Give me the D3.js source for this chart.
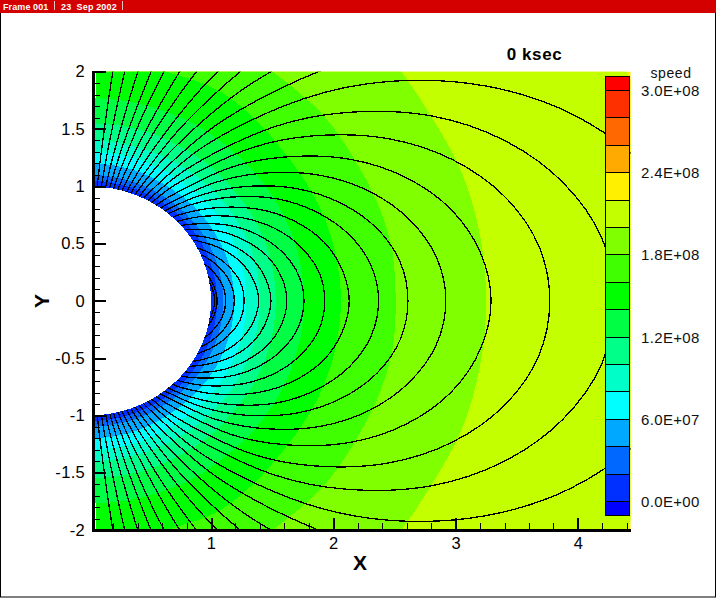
<!DOCTYPE html>
<html><head><meta charset="utf-8">
<script src="https://cdn.jsdelivr.net/npm/d3@7"></script>
<style>
html,body{margin:0;padding:0;background:#fff;overflow:hidden}
svg{display:block;font-family:"Liberation Sans",Arial,sans-serif}
</style></head><body><svg id="c" width="716" height="598"></svg>
<script>
const _ = null;
// Colour levels (legend)
const legendEdges = [-1e7,0,2e7,4e7,6e7,8e7,1e8,1.2e8,1.4e8,1.6e8,1.8e8,2e8,2.2e8,2.4e8,2.6e8,2.8e8,3e8,3.1e8];
const legendColors = ["#0000ff","#0030ff","#0068ff","#00a8ff","#00ffff","#00ffc8","#00ff88","#00ff44","#00ff00","#40ff00","#80ff00","#c4ff00","#fff000","#ffaa00","#ff6800","#ff3000","#ff0000"];
const legendTicks = [0,6e7,1.2e8,1.8e8,2.4e8,3e8];
const legendTickLabels = ["0.0E+00","6.0E+07","1.2E+08","1.8E+08","2.4E+08","3.0E+08"];
// Band boundaries: radius read at angles from the y=0 line (degrees)
const bandAngles = [0,10,20,30,40,50,60,70,80,88.2];
const bandInnerColor = [12,11,10,9,8,7,6,5,4,3,2,1];
const bandRadii = [
 [6,6,6,6,6,6,6,6,6,6],
 [4.83,4.83,4.83,4.83,4.83,4.83,4.83,4.83,4.83,4.83],
 [3.25,3.25,3.25,3.23,3.25,3.25,3.25,3.25,3.25,3.25],
 [2.51,2.52,2.51,2.50,2.51,2.50,2.51,2.51,2.51,2.51],
 [2.065,2.06,2.06,2.055,2.06,2.09,2.12,2.10,2.10,2.10],
 [1.76,1.76,1.76,1.76,1.76,1.76,1.77,1.77,1.77,1.77],
 [1.53,1.53,1.53,1.53,1.53,1.54,1.54,1.55,1.55,1.55],
 [1.40,1.40,1.40,1.40,1.40,1.40,1.40,1.40,1.40,1.40],
 [1.29,1.29,1.29,1.29,1.29,1.29,1.29,1.30,1.30,1.30],
 [1.19,1.19,1.19,1.19,1.19,1.19,1.19,1.20,1.20,1.20],
 [1.10,1.10,1.10,1.10,1.10,1.10,1.10,1.10,1.10,1.10],
 [1.05,1.05,1.05,1.05,1.05,1.05,1.05,1.05,1.05,1.05]
];
const rimRadius = 1;
// Field lines: radius at each polar angle from +y (degrees), upper half
const fieldGrid = [90,82.5,75,67.5,60,52,45,35,27,21,16,12,9,7,5.5,4.5];
const fieldFoot = [3.97,5.89,7.93,9.87,11.73,13.83,15.79,18.02,20.08,22.16,24.38,26.57,28.83,31.0,33.46,35.82,38.24,40.51,43.25,46.04,48.92,51.79,55.15,58.18,62.55,66.44,71.27,77.39,81.0];
const fieldR = [
 [_,_,_,_,_,_,_,_,_,_,_,_,_,3.10,1.92,1.29],
 [_,_,_,_,_,_,_,_,_,_,_,4.10,2.33,1.41],
 [_,_,_,_,_,_,_,_,_,_,4.00,2.27,1.29],
 [_,_,_,_,_,_,_,_,_,4.37,2.58,1.47],
 [_,_,_,_,_,_,_,_,4.99,3.11,1.84,1.05],
 [_,_,_,_,_,_,_,5.76,3.61,2.25,1.33],
 [_,_,_,_,_,_,_,4.44,2.78,1.73,1.03],
 [_,_,_,_,_,_,5.23,3.44,2.15,1.34],
 [_,_,_,_,_,5.27,4.24,2.79,1.75,1.09],
 [_,_,_,_,5.27,4.36,3.52,2.31,1.45],
 [5.87,5.77,5.48,5.01,4.40,3.65,2.94,1.93,1.21],
 [5.00,4.92,4.67,4.27,3.75,3.11,2.50,1.65,1.03],
 [4.30,4.23,4.01,3.67,3.23,2.67,2.15,1.41],
 [3.77,3.71,3.52,3.22,2.83,2.34,1.89,1.24],
 [3.29,3.23,3.07,2.81,2.47,2.04,1.65,1.08],
 [2.92,2.87,2.72,2.49,2.19,1.81,1.46],
 [2.61,2.57,2.44,2.23,1.96,1.62,1.31],
 [2.37,2.33,2.21,2.02,1.78,1.47,1.19],
 [2.13,2.09,1.99,1.82,1.60,1.32,1.07],
 [1.93,1.90,1.80,1.65,1.45,1.20],
 [1.76,1.73,1.64,1.50,1.32,1.09],
 [1.62,1.59,1.51,1.38,1.22,1.01],
 [1.49,1.46,1.39,1.27,1.11],
 [1.39,1.36,1.29,1.18,1.04],
 [1.27,1.25,1.18,1.08],
 [1.19,1.17,1.11,1.02],
 [1.12,1.10,1.04],
 [1.05,1.03],
 [1.03,1.01]
];
const xTicks = [1,2,3,4];
const xMinor = [0.2,0.4,0.6,0.8,1.2,1.4,1.6,1.8,2.2,2.4,2.6,2.8,3.2,3.4,3.6,3.8,4.2,4.4];
const yTicks = [-2,-1.5,-1,-0.5,0,0.5,1,1.5,2];
const yMinor = [-1.9,-1.8,-1.7,-1.6,-1.4,-1.3,-1.2,-1.1,-0.9,-0.8,-0.7,-0.6,-0.4,-0.3,-0.2,-0.1,0.1,0.2,0.3,0.4,0.6,0.7,0.8,0.9,1.1,1.2,1.3,1.4,1.6,1.7,1.8,1.9];
const frameText = ["Frame 001","23  Sep 2002"];
const timeLabel = "0 ksec";
const legendTitle = "speed";

const svg = d3.select("#c");
const x = d3.scaleLinear().domain([0.035,4.43]).range([93,630.5]);
const y = d3.scaleLinear().domain([2,-2]).range([71.7,530]);
const lv = d3.scaleLinear().domain([0,3e8]).range([501,90]);
const rad = d => d*Math.PI/180;

// page frame + title bar
svg.append("rect").attr("x",0.5).attr("y",0.5).attr("width",715).attr("height",596.5).attr("fill","#fff").attr("stroke","#000");
svg.append("rect").attr("width",716).attr("height",13).attr("fill","#d40000");
svg.append("text").attr("x",3).attr("y",9.5).attr("fill","#fff").attr("font-size",9).attr("letter-spacing",.1).attr("font-weight","bold").text(frameText[0]);
svg.append("line").attr("x1",54.5).attr("x2",54.5).attr("y1",1).attr("y2",10).attr("stroke","#f0c0c0");
svg.append("text").attr("x",61).attr("y",9.5).attr("fill","#fff").attr("font-size",9).attr("letter-spacing",.15).attr("font-weight","bold").style("white-space","pre").text(frameText[1]);
svg.append("line").attr("x1",122.5).attr("x2",122.5).attr("y1",1).attr("y2",10).attr("stroke","#f0c0c0");

svg.append("defs").append("clipPath").attr("id","plot").append("rect")
  .attr("x",x(0.035)).attr("y",y(2)).attr("width",x(4.43)-x(0.035)).attr("height",y(-2)-y(2));
const plot = svg.append("g").attr("clip-path","url(#plot)");

// bands, outermost first
const curve = d3.line().x(d=>x(d[0])).y(d=>y(d[1])).curve(d3.curveCatmullRom.alpha(0.5));
bandRadii.forEach((rs,k)=>{
  const pts = [];
  bandAngles.slice().reverse().forEach((a,i)=>{ const r=rs[bandAngles.length-1-i]; pts.push([r*Math.cos(rad(a)),-r*Math.sin(rad(a))]); });
  bandAngles.forEach((a,i)=>{ if(i>0) pts.push([rs[i]*Math.cos(rad(a)),rs[i]*Math.sin(rad(a))]); });
  plot.append("path").attr("d",curve(pts)+`L${x(0)},${y(0)}Z`)
    .attr("fill",legendColors[bandInnerColor[k]]).attr("shape-rendering","crispEdges");
});
// the solid body
plot.append("path").attr("d",curve(d3.range(-90,91,5).map(a=>[rimRadius*Math.cos(rad(a)),rimRadius*Math.sin(rad(a))]))+`L${x(0)},${y(0)}Z`)
  .attr("fill","#fff").attr("shape-rendering","crispEdges");

// field lines
const flGroup = plot.append("g").attr("fill","none").attr("stroke","#000").attr("stroke-width",1.3).attr("shape-rendering","crispEdges");
fieldR.forEach((row,i)=>{
  const up = [];
  row.forEach((r,j)=>{ if(r!==null) up.push([fieldGrid[j],r]); });
  up.push([fieldFoot[i],1]);
  const P = (c,r,s)=>[r*Math.sin(rad(c)),s*r*Math.cos(rad(c))];
  if(row[0]!==null){
    const pts = up.slice().reverse().map(d=>P(d[0],d[1],1)).concat(up.slice(1).map(d=>P(d[0],d[1],-1)));
    flGroup.append("path").attr("d",curve(pts));
  } else {
    flGroup.append("path").attr("d",curve(up.map(d=>P(d[0],d[1],1))));
    flGroup.append("path").attr("d",curve(up.map(d=>P(d[0],d[1],-1))));
  }
});

// legend
const leg = svg.append("g");
legendColors.forEach((c,i)=>{
  leg.append("rect").attr("x",605.5).attr("width",24).attr("y",Math.round(lv(legendEdges[i+1]))+.5)
    .attr("height",Math.round(lv(legendEdges[i]))-Math.round(lv(legendEdges[i+1])))
    .attr("fill",c).attr("stroke","#000").attr("stroke-width",1).attr("shape-rendering","crispEdges");
});
legendTicks.forEach((v,i)=>{
  svg.append("text").attr("x",641).attr("y",lv(v)+.5).attr("dy",".36em").attr("font-size",15).attr("letter-spacing",.35).attr("fill","#111").text(legendTickLabels[i]);
});
svg.append("text").attr("x",671).attr("y",78).attr("text-anchor","middle").attr("font-size",14).attr("letter-spacing",.6).attr("fill","#111").text(legendTitle);
svg.append("text").attr("x",534.5).attr("y",60).attr("text-anchor","middle").attr("font-size",17).attr("letter-spacing",.6).attr("font-weight","bold").text(timeLabel);

// axes
function styleAxis(g,wd){ g.selectAll(".tick line").attr("stroke","#000").attr("stroke-width",wd).attr("shape-rendering","crispEdges"); g.select(".domain").remove(); }
const gxm = svg.append("g").attr("transform",`translate(0,530)`).call(d3.axisBottom(x).tickValues(xMinor).tickSize(-7).tickFormat(""));
styleAxis(gxm,1);
const gx = svg.append("g").attr("transform",`translate(0,530)`).call(d3.axisBottom(x).tickValues(xTicks).tickSize(-12).tickPadding(7).tickFormat(d3.format("d")));
styleAxis(gx,2);
const gym = svg.append("g").attr("transform",`translate(93,0)`).call(d3.axisLeft(y).tickValues(yMinor).tickSize(-7).tickFormat(""));
styleAxis(gym,1);
const gy = svg.append("g").attr("transform",`translate(93,0)`).call(d3.axisLeft(y).tickValues(yTicks).tickSize(-13).tickPadding(8).tickFormat(d=>String(d)));
styleAxis(gy,2);
[gx,gy].forEach(g=>g.selectAll("text").attr("font-size",16.5).attr("letter-spacing",.3).attr("fill","#000").attr("font-family","Liberation Sans"));
svg.append("line").attr("x1",92).attr("x2",631).attr("y1",530.5).attr("y2",530.5).attr("stroke","#000").attr("stroke-width",3).attr("shape-rendering","crispEdges");
svg.append("line").attr("x1",93).attr("x2",93).attr("y1",71).attr("y2",532).attr("stroke","#000").attr("stroke-width",3).attr("shape-rendering","crispEdges");
svg.append("text").attr("x",360).attr("y",570).attr("text-anchor","middle").attr("font-size",21).attr("font-weight","bold").text("X");
svg.append("text").attr("transform","translate(49,301) rotate(-90)").attr("text-anchor","middle").attr("font-size",21).attr("font-weight","bold").text("Y");
</script></body></html>
